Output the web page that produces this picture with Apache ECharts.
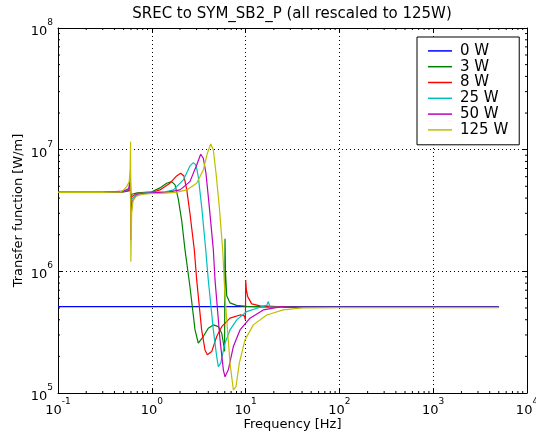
<!DOCTYPE html>
<html>
<head>
<meta charset="utf-8">
<script src="https://cdn.jsdelivr.net/npm/echarts@6/dist/echarts.min.js"></script>
<style>html,body{margin:0;padding:0;background:#fff;}#c{width:536px;height:436px;}</style>
</head>
<body>
<div id="c"></div>
<script>
// ---- data (frequency [Hz], transfer function [W/m]) ----
const seriesNames = ['0 W', '3 W', '8 W', '25 W', '50 W', '125 W'];

const s0W = [[0.1, 5.12e5], [5000, 5.12e5]];

const s3W = [[0.1,4.45e6],[0.3,4.45e6],[0.5,4.5e6],[0.57,4.58e6],[0.592,4.9e6],[0.597,3.9e6],[0.61,4.3e6],[0.7,4.42e6],
  [1.0,4.5e6],[1.22,4.85e6],[1.44,5.3e6],[1.63,5.46e6],[1.77,5.13e6],[1.92,3.9e6],[2.08,2.64e6],[2.26,1.5e6],
  [2.55,7.5e5],[2.89,3.3e5],[3.13,2.57e5],[3.27,2.48e5],[3.54,2.91e5],[4.0,3.41e5],[4.53,3.63e5],[5.12,3.51e5],
  [5.56,3.1e5],[5.88,2.41e5],[5.97,2.2e5],[6.03,1.85e6],[6.1,1.0e6],[6.29,6.3e5],[6.82,5.5e5],[8.0,5.25e5],
  [10.3,5.15e5],[20,5.08e5],[100,5.06e5],[1000,5.05e5],[5000,5.05e5]];

const s8W = [[0.1,4.45e6],[0.3,4.45e6],[0.5,4.52e6],[0.57,4.65e6],[0.592,5.3e6],[0.597,3.0e6],[0.61,4.1e6],[0.7,4.38e6],
  [1.0,4.45e6],[1.22,4.67e6],[1.56,5.3e6],[1.84,6.08e6],[2.03,6.4e6],[2.2,6.08e6],[2.36,4.67e6],[2.55,3.0e6],
  [2.84,1.5e6],[3.01,8.5e5],[3.4,3.3e5],[3.69,2.26e5],[3.91,2.06e5],[4.35,2.19e5],[4.92,2.91e5],[5.56,3.51e5],
  [6.82,4.12e5],[8.72,4.38e5],[9.7,4.3e5],[9.95,4.0e5],[10.03,8.5e5],[10.2,7.0e5],[10.53,6.2e5],[11.62,5.4e5],
  [14.24,5.2e5],[30,5.08e5],[100,5.06e5],[1000,5.05e5],[5000,5.05e5]];

const s25W = [[0.1,4.45e6],[0.3,4.45e6],[0.5,4.55e6],[0.57,4.72e6],[0.592,5.6e6],[0.597,2.6e6],[0.61,3.9e6],[0.7,4.35e6],
  [1.0,4.45e6],[1.4,4.5e6],[1.7,4.67e6],[2.17,5.64e6],[2.55,7.35e6],[2.77,7.82e6],[2.96,7.49e6],[3.13,6.0e6],
  [3.4,3.4e6],[3.76,1.5e6],[4.0,8.5e5],[4.53,3.3e5],[4.92,1.99e5],[5.12,1.65e5],[5.43,1.76e5],[6.03,2.57e5],
  [6.82,3.3e5],[8.04,3.99e5],[10.27,4.67e5],[14.24,5.07e5],[16.8,5.25e5],[17.46,5.64e5],[18.2,5.1e5],[25,5.06e5],
  [100,5.05e5],[1000,5.05e5],[5000,5.05e5]];

const s50W = [[0.1,4.45e6],[0.3,4.45e6],[0.5,4.57e6],[0.57,4.8e6],[0.592,6.2e6],[0.597,1.8e6],[0.61,3.7e6],[0.7,4.3e6],
  [1.0,4.42e6],[1.5,4.47e6],[2.0,4.67e6],[2.55,5.46e6],[3.01,7.49e6],[3.32,9.17e6],[3.54,8.5e6],[3.78,6.4e6],
  [4.1,3.4e6],[4.53,1.5e6],[4.72,8.5e5],[5.34,2.73e5],[5.79,1.55e5],[6.03,1.36e5],[6.54,1.55e5],[7.4,2.41e5],
  [8.72,3.3e5],[11.14,4.12e5],[15.44,4.82e5],[24.26,5.13e5],[25.23,5.3e5],[26.3,5.05e5],[100,5.05e5],
  [1000,5.05e5],[5000,5.05e5]];

const s125W = [[0.1,4.45e6],[0.3,4.46e6],[0.46,4.5e6],[0.5,4.67e6],[0.54,4.97e6],[0.575,5.46e6],[0.588,7.0e6],[0.594,1.16e7],
  [0.598,1.2e6],[0.61,3.0e6],[0.634,3.9e6],[0.69,4.17e6],[0.81,4.3e6],[0.96,4.36e6],[1.22,4.38e6],[1.8,4.45e6],
  [2.36,4.67e6],[3.01,5.3e6],[3.54,6.81e6],[3.91,9.34e6],[4.25,1.114e7],[4.53,9.94e6],[4.84,6.4e6],[5.24,3.4e6],
  [5.7,1.5e6],[6.03,6.2e5],[6.82,1.76e5],[7.4,1.06e5],[7.9,1.13e5],[8.57,1.76e5],[9.85,2.73e5],[12.08,3.63e5],
  [16.79,4.38e5],[25.23,4.82e5],[38,4.98e5],[39.6,5.12e5],[41,5.0e5],[100,5.04e5],[1000,5.04e5],[5000,5.03e5]];

const allSeries = [s0W, s3W, s8W, s25W, s50W, s125W];

// axis ranges and minor tick values
const xRange = [0.1, 10000];
const yRange = [1e5, 1e8];
const xMinor = [];
for (let k = -1; k <= 3; k++) for (let m = 2; m <= 9; m++) xMinor.push(m * Math.pow(10, k));
const yMinor = [];
for (let k = 5; k <= 7; k++) for (let m = 2; m <= 9; m++) yMinor.push(m * Math.pow(10, k));

// ---- chart ----
const colors = ['#0000ff', '#008000', '#ff0000', '#00bfbf', '#bf00bf', '#bfbf00'];
const FONT = 'DejaVu Sans';
const chart = echarts.init(document.getElementById('c'), null, {renderer: 'canvas'});

function powLabel(v) {
  const e = Math.round(Math.log10(v));
  return '{b|10}{s|' + e + '}';
}
const richLab = {
  b: {fontFamily: FONT, fontSize: 13, color: '#000', lineHeight: 20, verticalAlign: 'bottom'},
  s: {fontFamily: FONT, fontSize: 9, color: '#000', lineHeight: 12, verticalAlign: 'top'}
};
const gridLine = {show: true, lineStyle: {color: '#000', width: 1, type: [1, 3]}};

const option = {
  backgroundColor: '#fff',
  animation: false,
  title: {
    text: 'SREC to SYM_SB2_P (all rescaled to 125W)',
    left: 292, top: 7, textAlign: 'center', padding: 0,
    textStyle: {fontFamily: FONT, fontSize: 15, fontWeight: 'normal', color: '#000'}
  },
  grid: {left: 58, right: 9, top: 28, bottom: 43, containLabel: false, outerBoundsMode: 'none'},
  legend: {
    data: seriesNames,
    orient: 'vertical',
    left: 417, top: 37,
    padding: [6, 11, 7, 11],
    itemGap: 0,
    icon: 'rect',
    itemWidth: 24, itemHeight: 1.5,
    borderColor: '#000', borderWidth: 1, borderRadius: 0,
    backgroundColor: '#fff',
    textStyle: {fontFamily: FONT, fontSize: 15, color: '#000', lineHeight: 15.8, padding: [0, 0, 0, 3]}
  },
  xAxis: [{
    type: 'log', logBase: 10, min: xRange[0], max: xRange[1], position: 'bottom',
    name: 'Frequency [Hz]', nameLocation: 'middle', nameGap: 25, nameMoveOverlap: false,
    nameTextStyle: {fontFamily: FONT, fontSize: 13, color: '#000'},
    axisLine: {show: true, onZero: false, lineStyle: {color: '#000', width: 1}},
    axisTick: {show: true, inside: true, length: 4, lineStyle: {color: '#000'}},
    axisLabel: {formatter: powLabel, rich: richLab, margin: 4, showMinLabel: true, showMaxLabel: true},
    splitLine: gridLine, minorTick: {show: false}
  }, {
    type: 'log', logBase: 10, min: xRange[0], max: xRange[1], position: 'top',
    axisLine: {show: true, onZero: false, lineStyle: {color: '#000', width: 1}},
    axisTick: {show: true, inside: true, length: 4, lineStyle: {color: '#000'}},
    axisLabel: {show: false}, splitLine: {show: false}
  }],
  yAxis: [{
    type: 'log', logBase: 10, min: yRange[0], max: yRange[1], position: 'left',
    name: 'Transfer function [W/m]', nameLocation: 'middle', nameGap: 33, nameMoveOverlap: false,
    nameTextStyle: {fontFamily: FONT, fontSize: 13, color: '#000'},
    axisLine: {show: true, onZero: false, lineStyle: {color: '#000', width: 1}},
    axisTick: {show: true, inside: true, length: 4, lineStyle: {color: '#000'}},
    axisLabel: {formatter: powLabel, rich: richLab, margin: 5, showMinLabel: true, showMaxLabel: true},
    splitLine: gridLine
  }, {
    type: 'log', logBase: 10, min: yRange[0], max: yRange[1], position: 'right',
    axisLine: {show: true, onZero: false, lineStyle: {color: '#000', width: 1}},
    axisTick: {show: true, inside: true, length: 4, lineStyle: {color: '#000'}},
    axisLabel: {show: false}, splitLine: {show: false}
  }],
  series: seriesNames.map((n, i) => ({
    name: n, type: 'line', data: allSeries[i], xAxisIndex: 0, yAxisIndex: 0,
    symbol: 'none', showSymbol: false, smooth: false,
    lineStyle: {color: colors[i], width: 1.2}, itemStyle: {color: colors[i]},
    z: 2 + i
  })).concat([{
    name: 'xminor', type: 'custom', silent: true, clip: false, z: 20,
    data: xMinor.map(v => [v, yRange[0]]),
    renderItem: function (params, api) {
      const v = api.value(0);
      const p = api.coord([v, yRange[0]]);
      const q = api.coord([v, yRange[1]]);
      return {type: 'group', children: [
        {type: 'line', shape: {x1: p[0], y1: p[1], x2: p[0], y2: p[1] - 2}, style: {stroke: '#000', lineWidth: 1}},
        {type: 'line', shape: {x1: q[0], y1: q[1], x2: q[0], y2: q[1] + 2}, style: {stroke: '#000', lineWidth: 1}}
      ]};
    }
  }, {
    name: 'yminor', type: 'custom', silent: true, clip: false, z: 20,
    data: yMinor.map(v => [xRange[0], v]),
    renderItem: function (params, api) {
      const v = api.value(1);
      const p = api.coord([xRange[0], v]);
      const q = api.coord([xRange[1], v]);
      return {type: 'group', children: [
        {type: 'line', shape: {x1: p[0], y1: p[1], x2: p[0] + 2, y2: p[1]}, style: {stroke: '#000', lineWidth: 1}},
        {type: 'line', shape: {x1: q[0], y1: q[1], x2: q[0] - 2, y2: q[1]}, style: {stroke: '#000', lineWidth: 1}}
      ]};
    }
  }])
};
chart.setOption(option);
</script>
</body>
</html>
